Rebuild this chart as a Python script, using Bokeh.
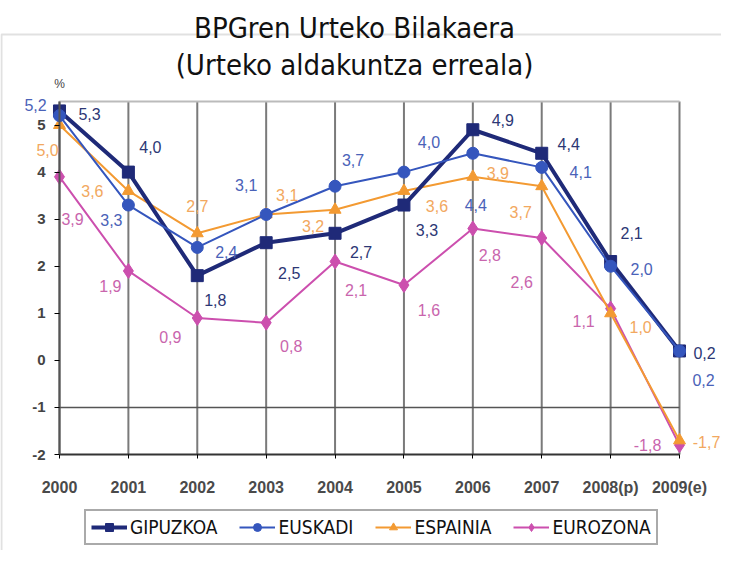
from bokeh.plotting import figure
from bokeh.models import (ColumnDataSource, LabelSet, Label, Legend, LegendItem,
                          FixedTicker, BoxAnnotation)
from bokeh.core.properties import value
from bokeh.embed import file_html
from bokeh.resources import INLINE

# ---------------- data ----------------
years = ["2000", "2001", "2002", "2003", "2004", "2005", "2006", "2007", "2008(p)", "2009(e)"]
gipuzkoa = [5.3, 4.0, 1.8, 2.5, 2.7, 3.3, 4.9, 4.4, 2.1, 0.2]
euskadi = [5.2, 3.3, 2.4, 3.1, 3.7, 4.0, 4.4, 4.1, 2.0, 0.2]
espainia = [5.0, 3.6, 2.7, 3.1, 3.2, 3.6, 3.9, 3.7, 1.0, -1.7]
eurozona = [3.9, 1.9, 0.9, 0.8, 2.1, 1.6, 2.8, 2.6, 1.1, -1.8]
y_ticks = [-2, -1, 0, 1, 2, 3, 4, 5]
y_tick_labels = ["-2", "-1", "0", "1", "2", "3", "4", "5"]
series_names = ["GIPUZKOA", "EUSKADI", "ESPAINIA", "EUROZONA"]

# ---------------- style: label offsets in px (dx right, dy down) ----------------
off_gip = [(30, 3), (22, -25), (18, 24), (23, 30), (26, 19), (23, 25), (30, -10), (27, -9), (21, -29), (25, 2)]
off_eus = [(-24, -11), (-17, 15), (29, 5), (-20, -29), (18, -26), (25, -30), (3, 52), (39, 5), (31, 3), (24, 29)]
off_esp = [(-12, 25), (-36, 0), (0, -27), (21, -19), (-22, 16), (33, 15), (25, -4), (-21, 26), (30, 14), (27, 2)]
off_eur = [(13, 42), (-18, 15), (-27, 19), (25, 23), (21, 28), (25, 25), (17, 26), (-20, 44), (-27, 12), (-32, 0)]

idx = list(range(len(years)))
FONT = "Liberation Sans"
COND = "DejaVu Sans Condensed, DejaVu Sans"

Y_LO, Y_HI = -2, 5.5
W, H = 721, 550
# frame covers the whole canvas; axes are pinned with fixed_location
px_x = 68.89
px_y = 47.067
p = figure(width=W, height=H,
           x_range=(idx[0] - 59 / px_x, idx[-1] + (W - 679) / px_x),
           y_range=(Y_LO - (H - 454) / px_y, Y_HI + 101 / px_y),
           output_backend="svg", toolbar_location=None)
p.min_border = 0
p.outline_line_color = None
p.background_fill_color = "white"
p.border_fill_color = "white"
p.xgrid.visible = False
p.ygrid.visible = False

# plot-area grid lines
p.segment(x0=idx, y0=[Y_LO] * len(idx), x1=idx, y1=[Y_HI] * len(idx),
          line_color="#7a7a7a", line_width=2)
p.segment(x0=[idx[0], idx[0]], y0=[-1, Y_HI], x1=[idx[-1], idx[-1]], y1=[-1, Y_HI],
          line_color=["#555555", "#bbbbbb"], line_width=[1.5, 2])

# axes
xa = p.xaxis[0]
xa.fixed_location = Y_LO
xa.ticker = FixedTicker(ticks=idx)
xa.major_label_overrides = {i: y for i, y in zip(idx, years)}
xa.bounds = (idx[0], idx[-1])
xa.axis_line_color = "#333333"
xa.axis_line_width = 2
xa.major_tick_out = 4
xa.major_tick_in = 0
xa.minor_tick_line_color = None
xa.major_label_standoff = 20
xa.major_label_text_font = FONT
xa.major_label_text_font_size = "16px"
xa.major_label_text_font_style = "bold"
xa.major_label_text_color = "#4a4a4a"

ya = p.yaxis[0]
ya.fixed_location = idx[0]
ya.ticker = FixedTicker(ticks=y_ticks)
ya.major_label_overrides = {t: s for t, s in zip(y_ticks, y_tick_labels)}
ya.bounds = (Y_LO, Y_HI)
ya.axis_line_color = "#555555"
ya.axis_line_width = 2
ya.major_tick_out = 5
ya.major_tick_in = 0
ya.minor_tick_line_color = None
ya.major_label_standoff = 9
ya.major_label_text_font = FONT
ya.major_label_text_font_size = "15px"
ya.major_label_text_font_style = "bold"
ya.major_label_text_color = "#444444"

p.add_layout(Label(x=idx[0], y=Y_HI, y_offset=17, text="%", text_align="center",
                   text_baseline="middle", text_font=FONT, text_font_size="12px",
                   text_color="#444444"))

colors = ["#1f2a78", "#3556bd", "#f39a32", "#cc4fae"]
label_colors = ["#2c3775", "#4a62b8", "#f2a860", "#c965ad"]
markers = ["square", "circle", "triangle", "diamond"]
msizes = [12, 12, 12, 15]
widths = [4, 2, 2, 2]
data = [gipuzkoa, euskadi, espainia, eurozona]
offsets = [off_gip, off_eus, off_esp, off_eur]

order = [3, 2, 0, 1]
items = {}
for k in order:
    src = ColumnDataSource(dict(
        x=idx, y=data[k],
        txt=[("%.1f" % v).replace(".", ",") for v in data[k]],
        dx=[o[0] for o in offsets[k]],
        dy=[-o[1] for o in offsets[k]],
    ))
    lr = p.line("x", "y", source=src, line_color=colors[k], line_width=widths[k])
    sr = p.scatter("x", "y", source=src, marker=markers[k], size=msizes[k],
                   fill_color=colors[k], line_color=colors[k])
    items[k] = LegendItem(label=series_names[k], renderers=[lr, sr])
    p.add_layout(LabelSet(x="x", y="y", text="txt", source=src, x_offset="dx", y_offset="dy",
                          text_align="center", text_baseline="middle",
                          text_font=value(FONT), text_font_size="16px",
                          text_color=label_colors[k]))

legend = Legend(items=[items[k] for k in range(4)], orientation="horizontal",
                location=(84, 5))
legend.label_text_font = COND
legend.label_text_font_size = "19px"
legend.label_text_color = "#111111"
legend.glyph_width = 36
legend.glyph_height = 20
legend.label_standoff = 3
legend.spacing = 22
legend.padding = 5
legend.margin = 0
legend.border_line_color = "#555555"
legend.border_line_width = 2
legend.background_fill_color = "white"
legend.background_fill_alpha = 1
p.add_layout(legend)

# outer frame box
p.add_layout(BoxAnnotation(left=1, right=780, top=34, bottom=640,
                           left_units="canvas", right_units="canvas",
                           top_units="canvas", bottom_units="canvas",
                           fill_alpha=0, line_color="#9a9a9a", line_width=2))

# titles
p.add_layout(Label(x=354, y=27, x_units="canvas", y_units="canvas",
                   text="BPGren Urteko Bilakaera", text_align="center",
                   text_baseline="alphabetic", text_font=COND, text_font_size="29px",
                   text_color="#111111"))
p.add_layout(Label(x=354, y=64, x_units="canvas", y_units="canvas",
                   text="(Urteko aldakuntza erreala)", text_align="center",
                   text_baseline="alphabetic", text_font=COND, text_font_size="29px",
                   text_color="#111111"))

open("out.html", "w").write(file_html(p, INLINE))
